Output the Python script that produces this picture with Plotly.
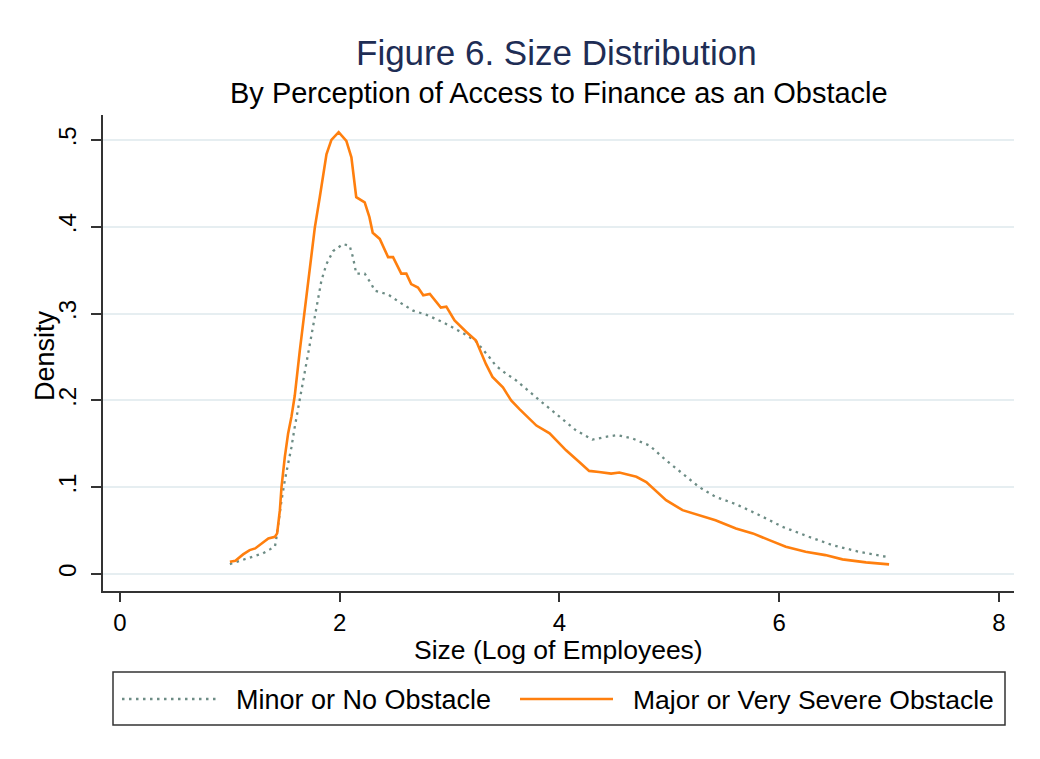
import plotly.graph_objects as go

# Data
minor_x = [1.00, 1.106, 1.21, 1.30, 1.364, 1.41, 1.418, 1.44, 1.47, 1.50, 1.53, 1.56, 1.59, 1.62,
           1.697, 1.773, 1.833, 1.879, 1.94, 2.03, 2.09, 2.12, 2.15, 2.227, 2.288, 2.318, 2.44,
           2.545, 2.667, 2.79, 2.94, 3.12, 3.24, 3.36, 3.42, 3.515, 3.606, 3.82, 4.00, 4.15, 4.30,
           4.42, 4.53, 4.667, 4.82, 4.97, 5.12, 5.27, 5.42, 5.606, 5.82, 6.03, 6.27, 6.485, 6.727, 7.0]
minor_y = [0.0115, 0.016, 0.0199, 0.0238, 0.0284, 0.032, 0.037, 0.058, 0.085, 0.108, 0.125, 0.146,
           0.169, 0.19, 0.242, 0.2996, 0.338, 0.357, 0.372, 0.380, 0.378, 0.365, 0.346, 0.346, 0.334,
           0.3264, 0.322, 0.313, 0.3034, 0.2985, 0.29, 0.2776, 0.268, 0.25, 0.240, 0.2307, 0.223,
           0.200, 0.181, 0.1655, 0.1548, 0.158, 0.160, 0.156, 0.148, 0.131, 0.1157, 0.1003, 0.0889,
           0.0805, 0.0678, 0.0544, 0.0429, 0.0333, 0.0256, 0.0192]

major_x = [1.00, 1.05, 1.12, 1.18, 1.23, 1.29, 1.35, 1.41, 1.43, 1.455, 1.47, 1.50, 1.53, 1.56, 1.59,
           1.636, 1.697, 1.773, 1.818, 1.879, 1.924, 1.99, 2.06, 2.106, 2.15, 2.227, 2.27, 2.30,
           2.364, 2.44, 2.485, 2.56, 2.606, 2.65, 2.712, 2.76, 2.82, 2.92, 2.97, 3.045, 3.15, 3.24,
           3.33, 3.39, 3.485, 3.56, 3.636, 3.79, 3.91, 4.06, 4.18, 4.27, 4.36, 4.47, 4.545, 4.70,
           4.79, 4.97, 5.12, 5.27, 5.42, 5.606, 5.76, 5.91, 6.06, 6.24, 6.42, 6.576, 6.79, 7.0]
major_y = [0.0142, 0.0153, 0.0226, 0.0276, 0.0295, 0.0353, 0.041, 0.0429, 0.0468, 0.0736, 0.1003,
           0.135, 0.162, 0.181, 0.205, 0.257, 0.319, 0.399, 0.434, 0.4835, 0.50, 0.509, 0.499, 0.48,
           0.434, 0.428, 0.411, 0.393, 0.386, 0.365, 0.365, 0.346, 0.346, 0.334, 0.330, 0.321,
           0.3225, 0.307, 0.308, 0.292, 0.279, 0.269, 0.242, 0.227, 0.215, 0.200, 0.190, 0.171,
           0.162, 0.1425, 0.129, 0.1188, 0.1176, 0.1157, 0.1169, 0.112, 0.106, 0.085, 0.0736,
           0.0678, 0.062, 0.0525, 0.0468, 0.039, 0.0314, 0.0256, 0.0218, 0.0169, 0.0134, 0.0111]

series_names = ["Minor or No Obstacle", "Major or Very Severe Obstacle"]
x_ticks = [0, 2, 4, 6, 8]
y_ticks = [0, 0.1, 0.2, 0.3, 0.4, 0.5]
y_tick_labels = ["0", ".1", ".2", ".3", ".4", ".5"]

FONT = "Liberation Sans, Arial, sans-serif"
GRAY = "#6d8c85"
ORANGE = "#ff7f0e"
MINOR_DASH = "2.5px,4.5px"

fig = go.Figure()
fig.add_trace(go.Scatter(x=minor_x, y=minor_y, mode="lines", name=series_names[0],
                         line=dict(color=GRAY, width=2.3, dash=MINOR_DASH), showlegend=False))
fig.add_trace(go.Scatter(x=major_x, y=major_y, mode="lines", name=series_names[1],
                         line=dict(color=ORANGE, width=2.6), showlegend=False))

OFF = 8  # page body margin
W, H = 1040 - OFF, 759 - OFF
L, T = 103 - OFF, 115 - OFF
R = W - (1014 - OFF)
B = H - (591 - OFF)
pw, ph = W - L - R, H - T - B


def px(xp):
    return (xp - OFF - L) / pw


def py(yp):
    return (H - B - (yp - OFF)) / ph


fig.update_layout(
    width=W, height=H,
    margin=dict(l=L, r=R, t=T, b=B, pad=0),
    paper_bgcolor="white", plot_bgcolor="white",
    font=dict(family=FONT, color="black", size=24),
    xaxis=dict(range=[-0.155, 8.137], tickvals=x_ticks, ticktext=[str(t) for t in x_ticks],
               showgrid=False, zeroline=False, showline=True, linecolor="#333", linewidth=1.5,
               ticks="outside", ticklen=9, tickwidth=1.5, tickcolor="#333",
               tickfont=dict(size=24)),
    yaxis=dict(range=[-0.01954, 0.5287], tickvals=y_ticks, ticktext=y_tick_labels,
               tickangle=-90, showgrid=True, gridcolor="#e6eef1", gridwidth=2,
               zeroline=False, showline=True, linecolor="#333", linewidth=1.5,
               ticks="outside", ticklen=10, tickwidth=1.5, tickcolor="#333",
               ticklabelstandoff=6, tickfont=dict(size=24)),
    annotations=[
        dict(text="Figure 6. Size Distribution", x=px(556.5), y=py(52), xref="paper", yref="paper",
             showarrow=False, xanchor="center", yanchor="middle",
             font=dict(size=35, color="#1e2d55", family=FONT)),
        dict(text="By Perception of Access to Finance as an Obstacle", x=px(558.5), y=py(93),
             xref="paper", yref="paper", showarrow=False, xanchor="center", yanchor="middle",
             font=dict(size=29, color="black", family=FONT)),
        dict(text="Size (Log of Employees)", x=px(558), y=py(650), xref="paper", yref="paper",
             showarrow=False, xanchor="center", yanchor="middle", font=dict(size=26.5)),
        dict(text="Density", x=px(45), y=py(356), xref="paper", yref="paper", textangle=-90,
             showarrow=False, xanchor="center", yanchor="middle", font=dict(size=27)),
        dict(text=series_names[0], x=px(234), y=py(700), xref="paper", yref="paper",
             showarrow=False, xanchor="left", yanchor="middle", font=dict(size=27)),
        dict(text=series_names[1], x=px(631), y=py(700), xref="paper", yref="paper",
             showarrow=False, xanchor="left", yanchor="middle", font=dict(size=26.5)),
    ],
    shapes=[
        dict(type="rect", xref="paper", yref="paper", x0=px(113), x1=px(1005), y0=py(672), y1=py(725),
             line=dict(color="#333", width=1.5), fillcolor="rgba(0,0,0,0)"),
        dict(type="line", xref="paper", yref="paper", x0=px(122), x1=px(218), y0=py(699), y1=py(699),
             line=dict(color=GRAY, width=2.3, dash=MINOR_DASH)),
        dict(type="line", xref="paper", yref="paper", x0=px(520), x1=px(613), y0=py(699), y1=py(699),
             line=dict(color=ORANGE, width=2.6)),
    ],
)

fig.write_html("out.html")
